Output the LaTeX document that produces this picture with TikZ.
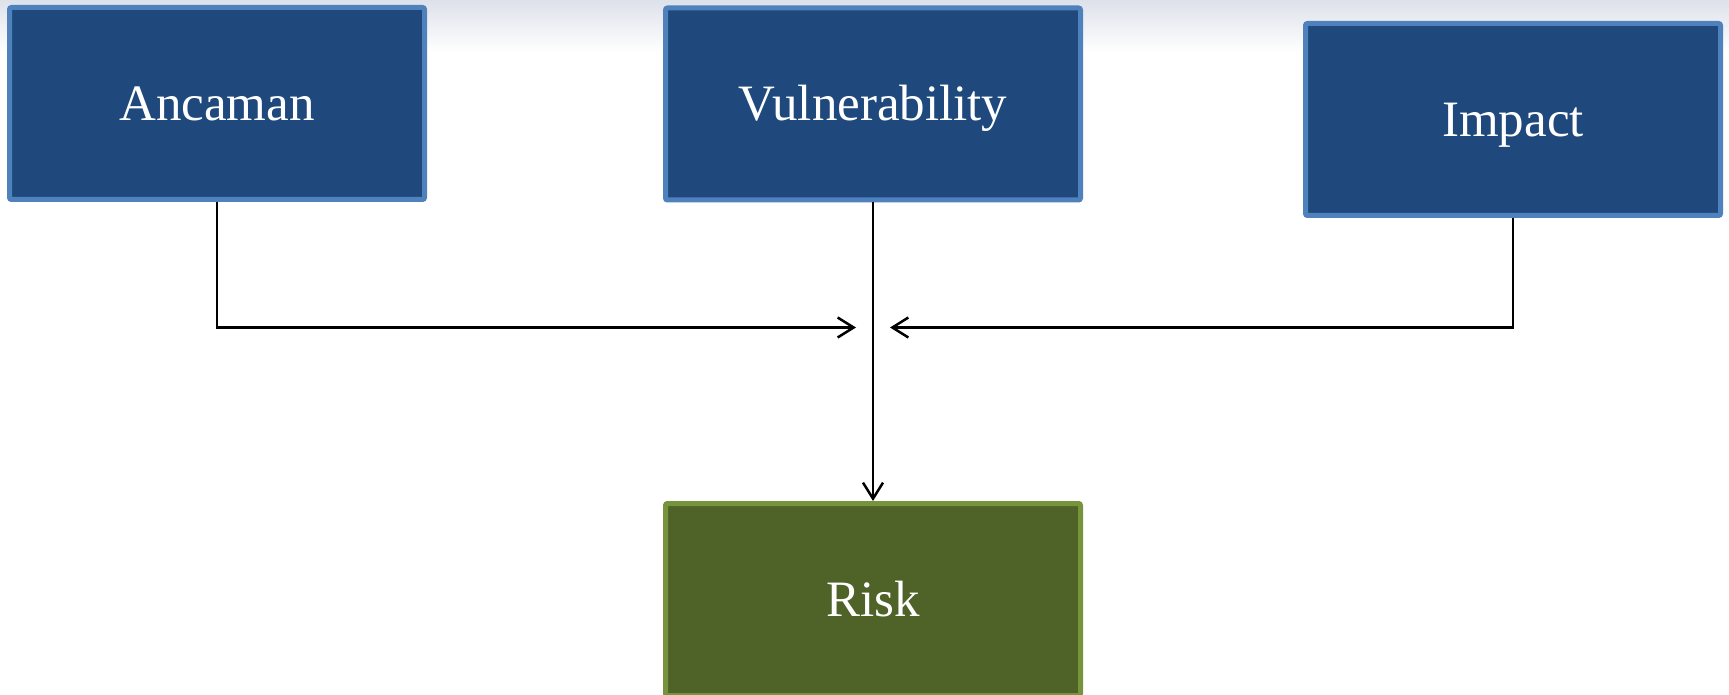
\documentclass[tikz,border=0pt]{standalone}
\usepackage{fontspec}
\setmainfont{Liberation Serif}
\usetikzlibrary{arrows.meta}
\definecolor{bluefill}{HTML}{1F497D}
\definecolor{blueline}{HTML}{4F81BD}
\definecolor{greenfill}{HTML}{4F6228}
\definecolor{greenline}{HTML}{77933C}
\definecolor{topband}{RGB}{221,225,234}
\tikzset{
  box/.style={rectangle, rounded corners=2pt, line width=5pt, draw=blueline, fill=bluefill,
    minimum width=415pt, minimum height=192pt, inner sep=0pt, text=white,
    text height=34pt, text depth=0pt,
    font=\fontsize{51}{60}\selectfont},
  riskbox/.style={box, draw=greenline, fill=greenfill},
  conn/.style={line width=2.5pt, black},
  arr/.style={conn, -{Straight Barb[length=16pt,width=20pt]}}
}
\begin{document}
\begin{tikzpicture}[x=1pt,y=-1pt]
\useasboundingbox (0,0) rectangle (1729,695);
\clip (0,0) rectangle (1729,695);
\fill[white] (0,0) rectangle (1729,695);
\shade[top color=topband, bottom color=white] (0,0) rectangle (1729,52);
\node[box] (anc) at (217,103.5) {Ancaman};
\node[box] (vul) at (873,104) {Vulnerability};
\node[box] (imp) at (1513,119.5) {Impact};
\node[riskbox] (risk) at (873,599.5) {Risk};
\coordinate (j) at (873,352);
\coordinate (ltip) at (856,327.5);
\coordinate (rtip) at (890,327.5);
\draw[arr] (anc.south) |- (ltip);
\draw[arr] (imp.south) |- (rtip);
\draw[conn] (vul.south) -- (j);
\draw[arr] (j) -- (risk.north);
\end{tikzpicture}
\end{document}
